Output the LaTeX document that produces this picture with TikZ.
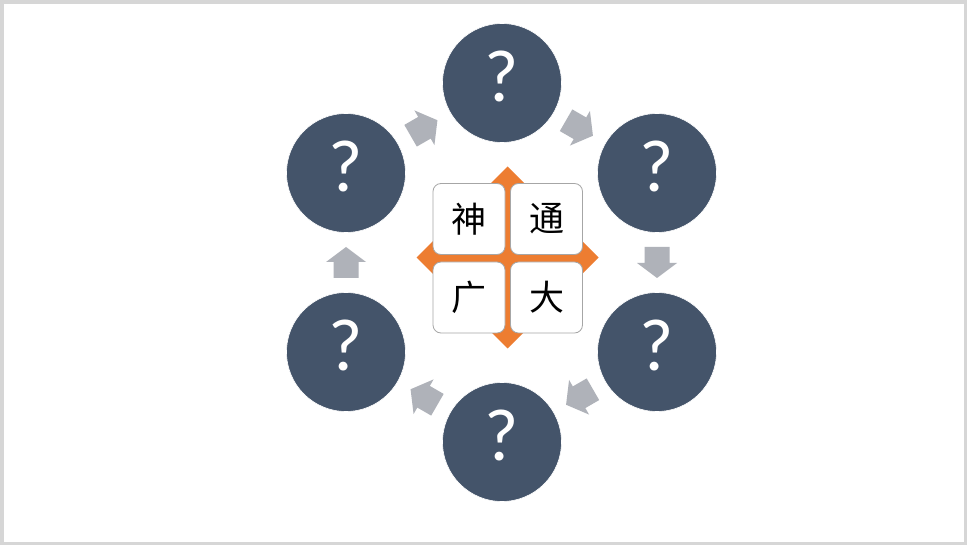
\documentclass[tikz,border=0pt]{standalone}
\usepackage{fontspec}
\setmainfont{Carlito}
\newfontfamily\cjk{Noto Sans CJK SC}
\usetikzlibrary{calc}
\definecolor{slate}{HTML}{44546A}
\definecolor{arrowgray}{HTML}{AFB2B9}
\definecolor{orangeacc}{HTML}{ED7D31}
\definecolor{framegray}{HTML}{D6D6D6}
\definecolor{boxedge}{HTML}{A6A6A6}
\tikzset{
  qcircle/.style={circle, fill=slate, draw=white, line width=0.6pt, minimum size=119pt, inner sep=0pt, text=white, font=\fontsize{74}{74}\selectfont},
  cjkbox/.style={rectangle, rounded corners=8pt, fill=white, draw=boxedge, line width=0.8pt, minimum width=72pt, minimum height=71pt, inner sep=0pt, font=\cjk\fontsize{35}{35}\selectfont},
  blockarrow/.style={fill=arrowgray, draw=none}
}
\newcommand{\blockarr}[3]{%
  \fill[blockarrow, shift={($(#1)!0.5!(#2)$)}, rotate=#3]
    (-15.5,12.5) -- (0.5,12.5) -- (0.5,20) -- (15.5,0) -- (0.5,-20) -- (0.5,-12.5) -- (-15.5,-12.5) -- cycle;}
\newcommand{\qm}{\raisebox{13pt}{?}}
\begin{document}
\begin{tikzpicture}[x=1pt,y=-1pt]
\useasboundingbox (0,0) rectangle (967,545);
\fill[framegray] (0,0) rectangle (967,545);
\fill[white] (4,4) rectangle (964,542);
% circles
\node[qcircle] (c1) at (502,83) {\qm};
\node[qcircle] (c2) at (657,173) {\qm};
\node[qcircle] (c3) at (657,352) {\qm};
\node[qcircle] (c4) at (502,442) {\qm};
\node[qcircle] (c5) at (346,352) {\qm};
\node[qcircle] (c6) at (346,173) {\qm};
% arrows
\blockarr{c6}{c1}{30}
\blockarr{c1}{c2}{-30}
\blockarr{c2}{c3}{-90}
\blockarr{c3}{c4}{210}
\blockarr{c4}{c5}{150}
\blockarr{c5}{c6}{90}
% center diamond
\coordinate (dc) at (507.5,257.5);
\fill[orangeacc] ($(dc)+(0,-91)$) -- ($(dc)+(91,0)$) -- ($(dc)+(0,91)$) -- ($(dc)+(-91,0)$) -- cycle;
\node[cjkbox] (b1) at (469,219) {神};
\node[cjkbox] (b2) at (546.5,219) {通};
\node[cjkbox] (b3) at (469,297.5) {广};
\node[cjkbox] (b4) at (546.5,297.5) {大};
\end{tikzpicture}
\end{document}
